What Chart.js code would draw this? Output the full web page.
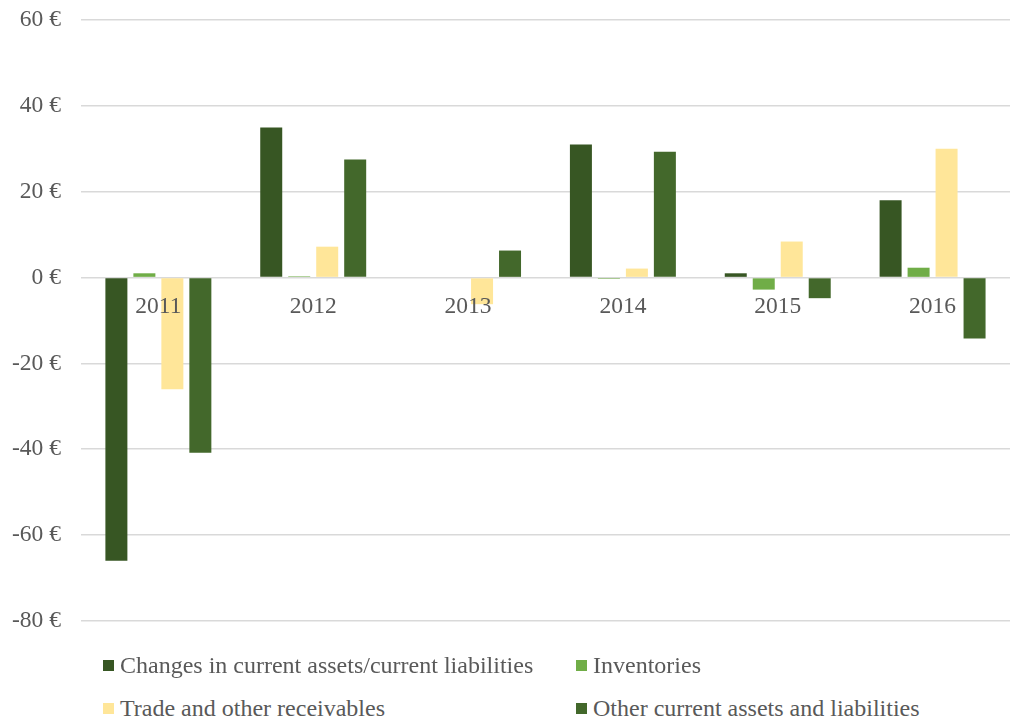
<!DOCTYPE html>
<html>
<head>
<meta charset="utf-8">
<script src="https://cdn.jsdelivr.net/npm/chart.js@4/dist/chart.umd.min.js"></script>
<style>
  html, body { margin: 0; padding: 0; background: #fff; overflow: hidden; }
  #wrap { position: relative; width: 1015px; height: 722px; overflow: hidden; }
  #cashChart { position: absolute; left: 0; top: -14px; }
  .legend { position: absolute; font-family: "Liberation Serif", "Times New Roman", serif; font-size: 24px; color: #595959; white-space: nowrap; line-height: 28px; }
  .legend span.box { display: inline-block; width: 11px; height: 11px; margin-right: 6px; vertical-align: 2px; }
</style>
</head>
<body>
<div id="wrap">
  <canvas id="cashChart" width="1015" height="669"></canvas>
  <div id="legend"></div>
</div>
<script>
const years = ['2011', '2012', '2013', '2014', '2015', '2016'];
const changesTotal = [-66, 35, 0, 31, 1, 18];
const inventories = [1, 0.3, 0, -0.3, -2.8, 2.3];
const tradeReceivables = [-26, 7.2, -6.2, 2.1, 8.4, 30];
const otherAssets = [-40.8, 27.5, 6.3, 29.3, -4.8, -14.2];

const seriesNames = [
    'Changes in current assets/current liabilities',
    'Inventories',
    'Trade and other receivables',
    'Other current assets and liabilities'
];
const seriesColors = ['#375623', '#70AD47', '#FFE699', '#43682B'];

document.addEventListener("DOMContentLoaded", function () {
    const ctx = document.getElementById('cashChart').getContext('2d');
    const allData = [changesTotal, inventories, tradeReceivables, otherAssets];

    new Chart(ctx, {
        type: 'bar',
        data: {
            labels: years,
            datasets: allData.map((values, i) => ({
                label: seriesNames[i],
                data: values,
                backgroundColor: seriesColors[i],
                borderWidth: 0,
                barPercentage: 0.786,
                categoryPercentage: 0.723
            }))
        },
        options: {
            responsive: false,
            animation: false,
            layout: { padding: { top: 0, right: 5, left: -8, bottom: 0 } },
            plugins: {
                legend: { display: false },
                tooltip: { enabled: false }
            },
            scales: {
                x: {
                    position: { y: 0 },
                    grid: { display: false },
                    border: { display: false },
                    ticks: {
                        z: 1,
                        color: '#595959',
                        font: { family: 'Liberation Serif', size: 23.5 },
                        padding: 7
                    }
                },
                y: {
                    min: -80,
                    max: 60,
                    ticks: {
                        stepSize: 20,
                        color: '#595959',
                        padding: 20,
                        font: { family: 'Liberation Serif', size: 23.5 },
                        callback: v => v + ' €'
                    },
                    grid: { color: '#d9d9d9', lineWidth: 1.5, drawTicks: false },
                    border: { display: false }
                }
            }
        }
    });

    // legend in two columns, like the original
    const legend = document.getElementById('legend');
    const spots = [[103, 651], [576, 651], [103, 694], [576, 694]];
    seriesNames.forEach((name, i) => {
        const item = document.createElement('div');
        item.className = 'legend';
        item.style.left = spots[i][0] + 'px';
        item.style.top = spots[i][1] + 'px';
        item.innerHTML = '<span class="box" style="background:' + seriesColors[i] + '"></span>' + name;
        legend.appendChild(item);
    });
});
</script>
</body>
</html>
